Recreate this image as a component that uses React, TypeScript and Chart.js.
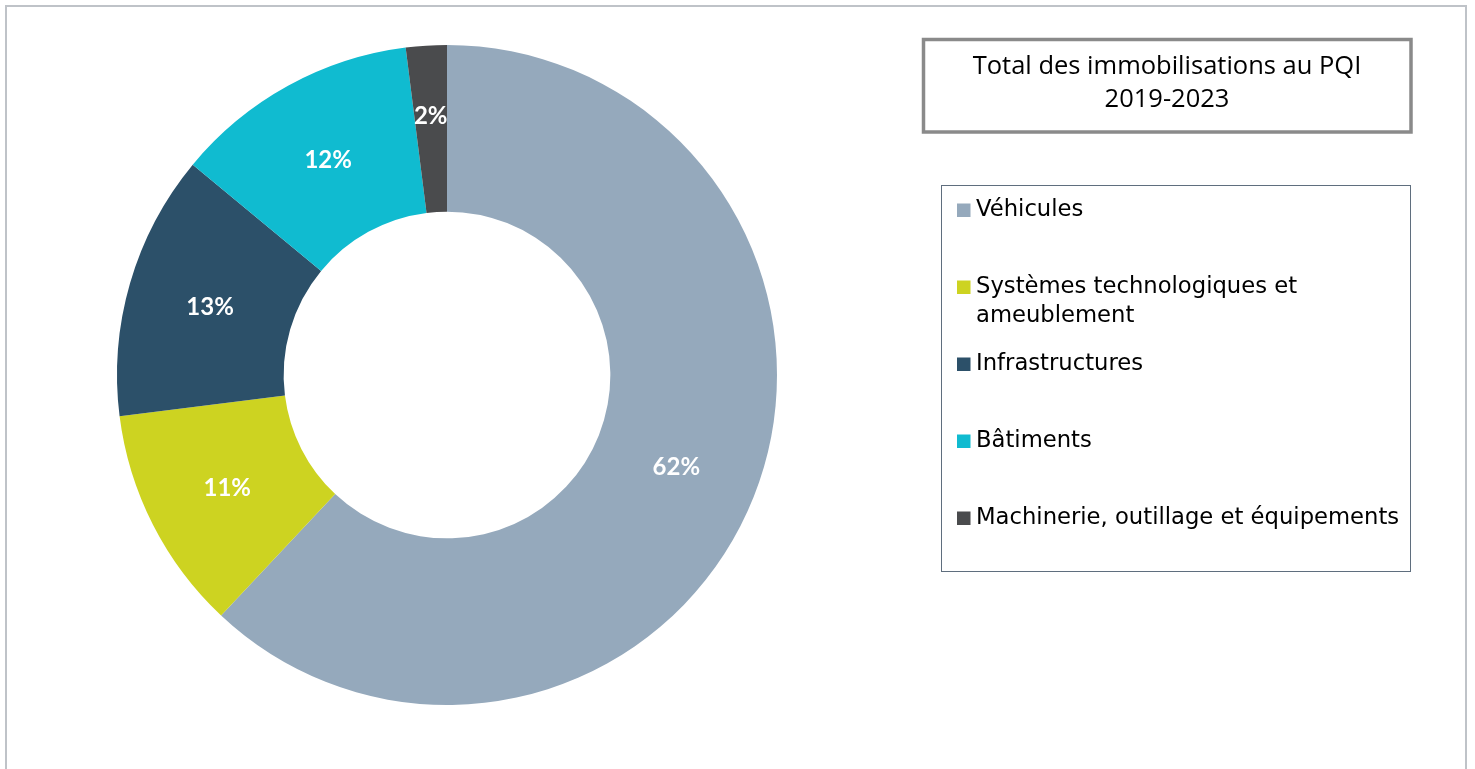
import React, { useEffect, useRef } from 'react';
import { Chart, registerables } from 'chart.js';

Chart.register(...registerables);

const categories: (string | string[])[] = [
  'Véhicules',
  ['Systèmes technologiques et', 'ameublement'],
  'Infrastructures',
  'Bâtiments',
  'Machinerie, outillage et équipements',
];
const values = [62, 11, 13, 12, 2];
const colors = ['#95a9bc', '#cdd321', '#2c5069', '#10bbd0', '#4a4b4d'];
const titleLines = ['Total des immobilisations au PQI', '2019-2023'];

const TITLE_FONT = '25.5px "Open Sans", sans-serif';
const LEGEND_FONT = '22.7px "DejaVu Sans", sans-serif';
const LABEL_FONT = 'bold 24px Lato, sans-serif';

const decorPlugin = {
  id: 'decor',
  beforeDraw(chart: any) {
    const ctx = chart.ctx as CanvasRenderingContext2D;
    ctx.save();
    ctx.fillStyle = '#ffffff';
    ctx.fillRect(0, 0, chart.width, chart.height);
    // outer frame
    ctx.strokeStyle = '#bfc3c8';
    ctx.lineWidth = 2;
    ctx.strokeRect(6, 6, 1460, 800);
    // title box
    ctx.strokeStyle = '#8a8a8a';
    ctx.lineWidth = 3.5;
    ctx.strokeRect(923.5, 39.5, 487.5, 92.5);
    // legend box
    ctx.strokeStyle = '#5f6e7e';
    ctx.lineWidth = 1;
    ctx.strokeRect(941.5, 185.5, 469, 386);
    ctx.restore();
  },
  afterDatasetsDraw(chart: any) {
    const ctx = chart.ctx as CanvasRenderingContext2D;
    const meta = chart.getDatasetMeta(0);
    const data = chart.data.datasets[0].data as number[];
    const total = data.reduce((a, b) => a + b, 0);
    ctx.save();
    ctx.fillStyle = '#ffffff';
    ctx.font = LABEL_FONT;
    ctx.textAlign = 'center';
    ctx.textBaseline = 'middle';
    meta.data.forEach((arc: any, i: number) => {
      const p = arc.getProps(['x', 'y', 'startAngle', 'endAngle', 'innerRadius', 'outerRadius'], true);
      const mid = (p.startAngle + p.endAngle) / 2;
      const share = data[i] / total;
      const f = share < 0.05 ? 0.58 : 0.5;
      const r = p.innerRadius + (p.outerRadius - p.innerRadius) * f;
      const x = p.x + Math.cos(mid) * r;
      const y = p.y + Math.sin(mid) * r;
      ctx.fillText(Math.round(share * 100) + '%', x, y + 1);
    });
    ctx.restore();
  },
  afterDraw(chart: any) {
    const ctx = chart.ctx as CanvasRenderingContext2D;
    ctx.save();
    // title
    ctx.fillStyle = '#000000';
    ctx.font = TITLE_FONT;
    ctx.textAlign = 'center';
    ctx.textBaseline = 'alphabetic';
    titleLines.forEach((t, i) => ctx.fillText(t, 1167, 73.5 + i * 33));
    // legend
    ctx.font = LEGEND_FONT;
    ctx.textAlign = 'left';
    const labels = chart.data.labels as (string | string[])[];
    const bg = chart.data.datasets[0].backgroundColor as string[];
    labels.forEach((lab, i) => {
      const cy = 210 + i * 77;
      ctx.fillStyle = bg[i];
      ctx.fillRect(957, cy - 6.5, 13.5, 13.5);
      ctx.fillStyle = '#000000';
      const lines = Array.isArray(lab) ? lab : [lab];
      lines.forEach((ln, j) => ctx.fillText(ln, 976, cy + 6 + j * 29));
    });
    ctx.restore();
  },
};

export default function App() {
  const ref = useRef<HTMLCanvasElement | null>(null);
  useEffect(() => {
    if (!ref.current) return;
    const chart = new Chart(ref.current, {
      type: 'doughnut',
      data: {
        labels: categories as any,
        datasets: [
          {
            data: values,
            backgroundColor: colors,
            borderWidth: 0,
          },
        ],
      },
      options: {
        animation: false,
        responsive: false,
        cutout: '49.5%',
        layout: { padding: { left: 117, top: 45, right: 698, bottom: 64 } },
        plugins: {
          legend: { display: false },
          tooltip: { enabled: false },
          title: { display: false },
        },
      },
      plugins: [decorPlugin],
    });
    return () => chart.destroy();
  }, []);
  return (
    <div style={{ position: 'fixed', left: 0, top: 0, width: 1475, height: 769, background: '#fff' }}>
      <canvas ref={ref} width={1475} height={769} style={{ display: 'block', width: 1475, height: 769 }} />
    </div>
  );
}
